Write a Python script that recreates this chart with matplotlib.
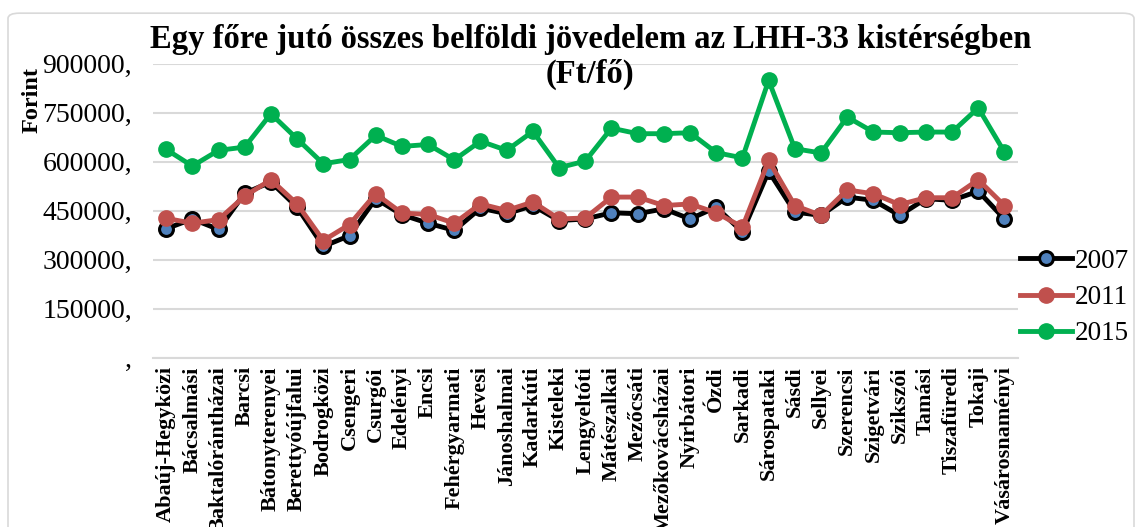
import matplotlib.pyplot as plt
from matplotlib.patches import FancyBboxPatch

plt.rcParams['font.family'] = ['Liberation Serif', 'DejaVu Serif']

# kistérségek (LHH-33)
regions = ['Abaúj-Hegyközi', 'Bácsalmási', 'Baktalórántházai', 'Barcsi', 'Bátonyterenyei',
           'Berettyóújfalui', 'Bodrogközi', 'Csengeri', 'Csurgói', 'Edelényi', 'Encsi',
           'Fehérgyarmati', 'Hevesi', 'Jánoshalmai', 'Kadarkúti', 'Kisteleki', 'Lengyeltóti',
           'Mátészalkai', 'Mezőcsáti', 'Mezőkovácsházai', 'Nyírbátori', 'Ózdi', 'Sarkadi',
           'Sárospataki', 'Sásdi', 'Sellyei', 'Szerencsi', 'Szigetvári', 'Szikszói', 'Tamási',
           'Tiszafüredi', 'Tokaji', 'Vásárosnaményi']

y2007 = [395000, 425000, 393000, 504000, 538000, 461000, 341000, 374000, 487000, 438000, 412000,
         390000, 458000, 441000, 466000, 420000, 425000, 444000, 441000, 456000, 425000, 461000,
         385000, 571000, 446000, 436000, 492000, 482000, 436000, 487000, 482000, 510000, 425000]
y2011 = [427000, 412000, 423000, 495000, 545000, 471000, 359000, 408000, 502000, 443000, 439000,
         412000, 471000, 451000, 477000, 425000, 428000, 492000, 492000, 466000, 471000, 444000,
         400000, 604000, 466000, 436000, 514000, 502000, 469000, 490000, 490000, 545000, 466000]
y2015 = [638000, 587000, 635000, 645000, 747000, 670000, 594000, 607000, 681000, 647000, 653000,
         606000, 663000, 635000, 693000, 582000, 602000, 703000, 686000, 686000, 689000, 628000,
         612000, 849000, 640000, 627000, 737000, 691000, 689000, 691000, 691000, 765000, 630000]

yticks = [0, 150000, 300000, 450000, 600000, 750000, 900000]
ytick_labels = [',', '150000,', '300000,', '450000,', '600000,', '750000,', '900000,']

fig = plt.figure(figsize=(11.42, 5.27), dpi=100)
ax = fig.add_axes([0.134, 0.321, 0.757, 0.558])

x = range(len(regions))
ax.plot(x, y2007, color='black', lw=3.5, marker='o', ms=10, mfc='#4F81BD', mec='black', mew=2.2,
        label='2007', zorder=3)
ax.plot(x, y2011, color='#C0504D', lw=3.5, marker='o', ms=11, mfc='#C0504D', mec='#C0504D',
        label='2011', zorder=4)
ax.plot(x, y2015, color='#00B050', lw=3.5, marker='o', ms=11, mfc='#00B050', mec='#00B050',
        label='2015', zorder=4)

ax.set_ylim(0, 900000)
ax.set_xlim(-0.5, len(regions) - 0.5)
ax.set_yticks(yticks)
ax.set_yticklabels(ytick_labels, fontsize=20)
ax.set_xticks(list(x))
ax.set_xticklabels(regions, rotation=90, fontsize=16, fontweight='bold', va='top')
ax.tick_params(axis='y', length=0, pad=15)
ax.tick_params(axis='x', length=0, pad=6)
ax.grid(axis='y', color='#D9D9D9', lw=1.5)
ax.set_axisbelow(True)
for s in ['top', 'right', 'left']:
    ax.spines[s].set_visible(False)
ax.spines['bottom'].set_color('#D9D9D9')
ax.spines['bottom'].set_linewidth(1.5)

fig.text(0.517, 0.925, 'Egy főre jutó összes belföldi jövedelem az LHH-33 kistérségben',
         ha='center', va='center', fontsize=23.5, fontweight='bold')
fig.text(0.517, 0.858, '(Ft/fő)', ha='center', va='center', fontsize=23.5, fontweight='bold')
fig.text(0.028, 0.81, 'Forint', rotation=90, ha='center', va='center', fontsize=17.5,
         fontweight='bold')

ax.legend(loc='center left', bbox_to_anchor=(1.003, 0.205), frameon=False, fontsize=19.5,
          handlelength=1.9, handletextpad=0.1, labelspacing=0.42, borderaxespad=0,
          borderpad=0)

# keret
frame = FancyBboxPatch((0.007, -0.05), 0.986, 1.025, boxstyle='round,pad=0,rounding_size=0.01',
                       transform=fig.transFigure, fill=False, ec='#D9D9D9', lw=1.2)
fig.patches.append(frame)

fig.savefig('out.png', dpi=100)
